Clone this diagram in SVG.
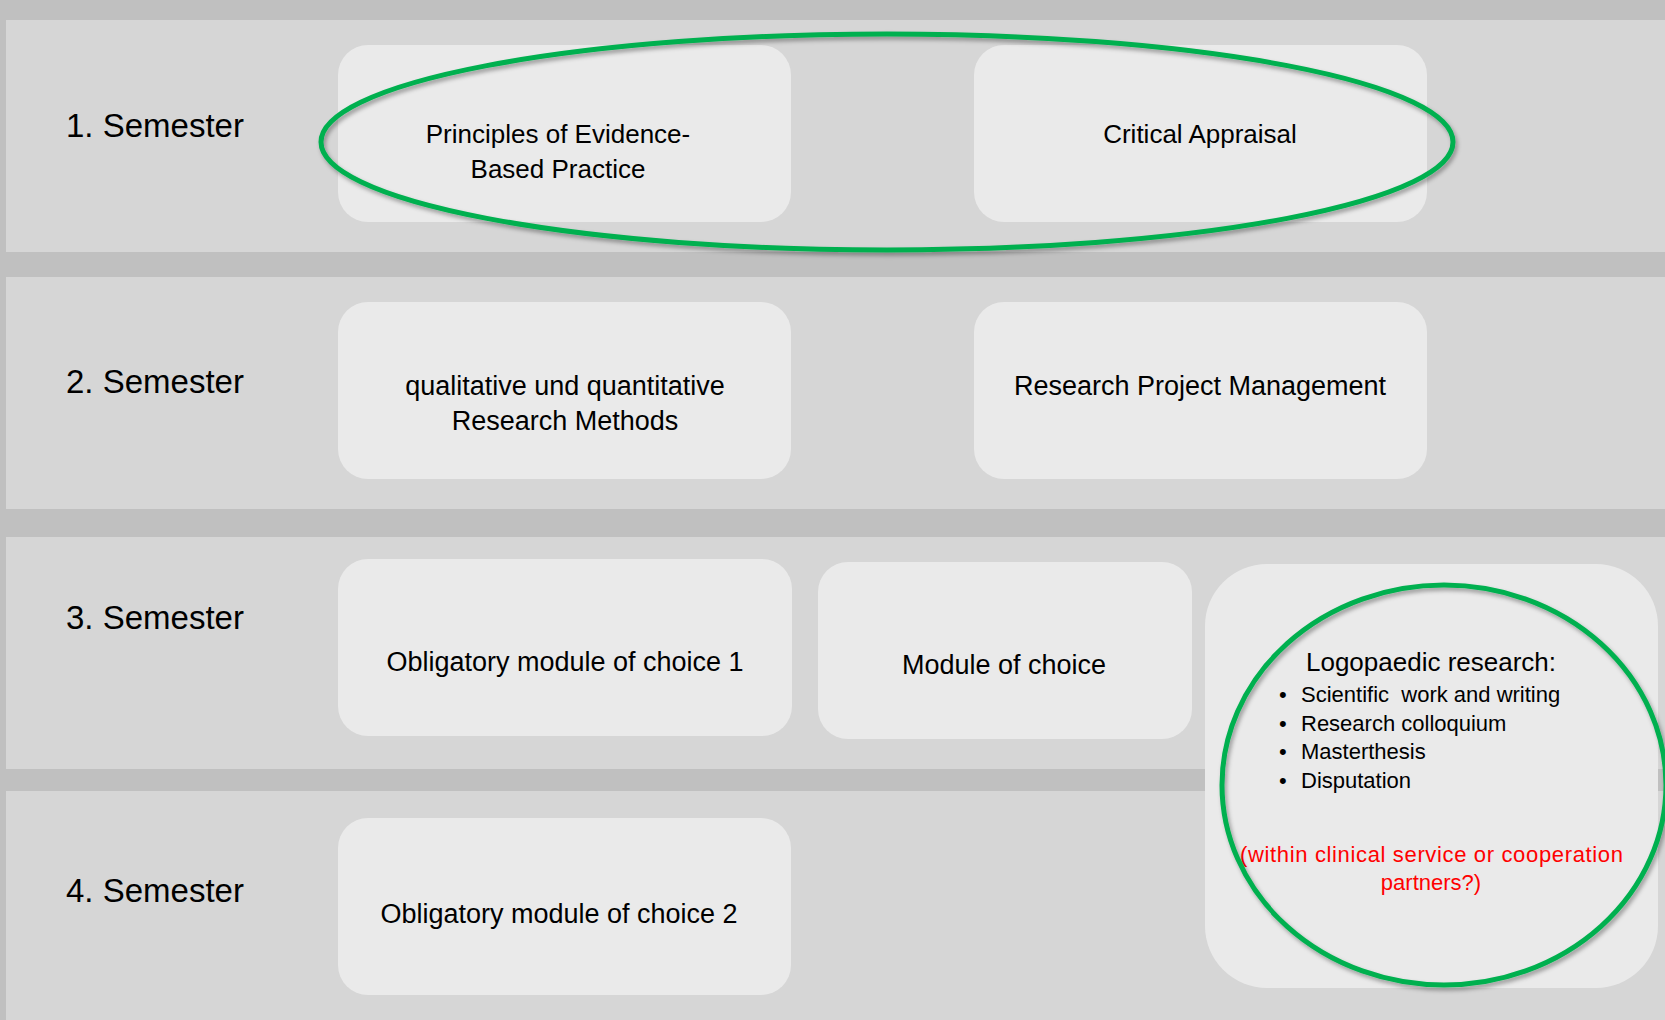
<svg xmlns="http://www.w3.org/2000/svg" width="1665" height="1020" viewBox="0 0 1665 1020">
<style>
.band{fill:#d6d6d6}
.box{fill:#eaeaea}
.sem{font-family:"Liberation Sans",Arial,sans-serif;font-size:33px;fill:#000}
.t{font-family:"Liberation Sans",Arial,sans-serif;font-size:27px;fill:#000;text-anchor:middle}
.t1{font-size:26px}
.b{font-family:"Liberation Sans",Arial,sans-serif;font-size:22px;fill:#000}
.red{font-family:"Liberation Sans",Arial,sans-serif;font-size:22px;fill:#ff0000}
.ring{fill:none;stroke:#00b050;stroke-width:5;filter:url(#sh)}
</style>
<defs>
<filter id="sh" x="-10%" y="-10%" width="120%" height="130%">
<feDropShadow dx="2" dy="3" stdDeviation="2" flood-color="#000" flood-opacity="0.35"/>
</filter>
</defs>
<rect x="0" y="0" width="1665" height="1020" fill="#c0c0c0"/>
<g id="rows">
<rect class="band" x="6" y="20" width="1659" height="232"/>
<rect class="band" x="6" y="277" width="1659" height="232"/>
<rect class="band" x="6" y="537" width="1659" height="232"/>
<rect class="band" x="6" y="791" width="1659" height="229"/>
</g>
<g id="labels">
<text class="sem" x="66" y="137">1. Semester</text>
<text class="sem" x="66" y="393">2. Semester</text>
<text class="sem" x="66" y="629">3. Semester</text>
<text class="sem" x="66" y="902">4. Semester</text>
</g>
<g id="n-principles">
<rect class="box" x="338" y="45" width="453" height="177" rx="30"/>
<text class="t t1" x="558" y="143">Principles of Evidence-</text>
<text class="t t1" x="558" y="178">Based Practice</text>
</g>
<g id="n-critical">
<rect class="box" x="974" y="45" width="453" height="177" rx="30"/>
<text class="t t1" x="1200" y="143">Critical Appraisal</text>
</g>
<g id="n-methods">
<rect class="box" x="338" y="302" width="453" height="177" rx="30"/>
<text class="t" x="565" y="395">qualitative und quantitative</text>
<text class="t" x="565" y="430">Research Methods</text>
</g>
<g id="n-rpm">
<rect class="box" x="974" y="302" width="453" height="177" rx="30"/>
<text class="t" x="1200" y="395">Research Project Management</text>
</g>
<g id="n-omc1">
<rect class="box" x="338" y="559" width="454" height="177" rx="30"/>
<text class="t" x="565" y="671">Obligatory module of choice 1</text>
</g>
<g id="n-moc">
<rect class="box" x="818" y="562" width="374" height="177" rx="30"/>
<text class="t" x="1004" y="674">Module of choice</text>
</g>
<g id="n-omc2">
<rect class="box" x="338" y="818" width="453" height="177" rx="30"/>
<text class="t" x="559" y="923">Obligatory module of choice 2</text>
</g>
<g id="n-logo">
<rect class="box" x="1205" y="564" width="453" height="424" rx="62"/>
<text class="t t1" x="1431" y="671">Logopaedic research:</text>
<text class="b" x="1279" y="702">•</text>
<text class="b" x="1301" y="702" xml:space="preserve">Scientific  work and writing</text>
<text class="b" x="1279" y="731">•</text>
<text class="b" x="1301" y="731">Research colloquium</text>
<text class="b" x="1279" y="759">•</text>
<text class="b" x="1301" y="759">Masterthesis</text>
<text class="b" x="1279" y="788">•</text>
<text class="b" x="1301" y="788">Disputation</text>
<text class="red" x="1240" y="862" textLength="383" lengthAdjust="spacing">(within clinical service or cooperation</text>
<text class="red" x="1431" y="890" text-anchor="middle">partners?)</text>
</g>
<g id="connectors">
<ellipse class="ring" cx="887" cy="142" rx="566" ry="108"/>
<ellipse class="ring" cx="1444" cy="785" rx="222" ry="200"/>
</g>
</svg>
